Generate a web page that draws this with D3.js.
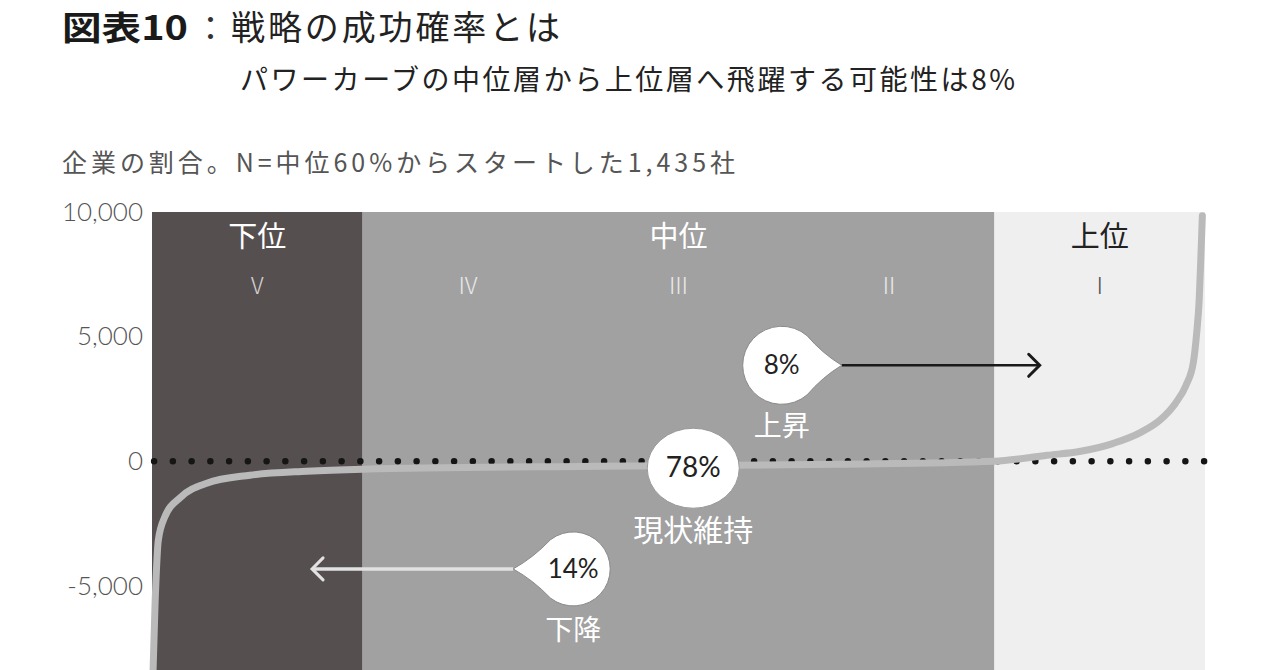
<!DOCTYPE html>
<html><head><meta charset="utf-8">
<script src="https://cdn.jsdelivr.net/npm/d3@7"></script>
<style>
html,body{margin:0;padding:0;background:#fff;}
svg{display:block;}
</style>
</head><body>
<svg id="c" width="1280" height="670"></svg>
<script>
// ---------- data ----------
const titleBold = "図表10";
const titleRest = "戦略の成功確率とは";
const subtitle = "パワーカーブの中位層から上位層へ飛躍する可能性は8%";
const note = "企業の割合。N=中位60%からスタートした1,435社";

const yTicks = [10000, 5000, 0, -5000];
const yTickLabels = ["10,000", "5,000", "0", "-5,000"];

// tiers (percentile ranges)
const tierNames = ["下位", "中位", "上位"];
const tierStart = [0, 20, 80];
const tierEnd = [20, 80, 100];
const tierColors = ["#564f50", "#a1a1a1", "#efefef"];
const tierTextColors = ["#ffffff", "#ffffff", "#222222"];

const quintileLabels = ["Ⅴ", "Ⅳ", "Ⅲ", "Ⅱ", "Ⅰ"];
const quintileCenters = [10, 30, 50, 70, 90];

// power curve: percentile of companies vs value
const curvePct = [0, 0.3, 0.6, 1.2, 2.7, 5.2, 9.3, 14.7, 20, 42.5, 65.3, 80, 85, 88.2, 91.3, 93.9, 95.8, 97.2, 98.2, 98.9, 99.2, 99.45, 99.6, 99.75];
const curveVal = [-9800, -5600, -3170, -2250, -1450, -880, -560, -400, -320, -200, -120, 0, 240, 400, 720, 1160, 1680, 2330, 3050, 3980, 5100, 6500, 8100, 9850];

// annotations
const annPct = [59.8, 51.4, 40.0];
const annVal = [3850, -280, -4320];
const annText = ["8%", "78%", "14%"];
const annLabel = ["上昇", "現状維持", "下降"];
const annArrowTo = [84.3, null, 15.2];

// ---------- layout ----------
const svg = d3.select("#c");
const x = d3.scaleLinear().domain([0, 100]).range([152, 1205]);
const y = d3.scaleLinear().domain([-10000, 10000]).range([710.5, 212]);
const JP = "'Noto Sans CJK JP','Noto Sans',sans-serif";
const NUM = "Lato,'Noto Sans',sans-serif";

// titles
svg.append("text").attr("x", 62).attr("y", 40)
  .attr("font-family", JP).attr("font-size", 33).attr("fill", "#1a1a1a")
  .attr("font-weight", "bold").text(titleBold)
  .attr("textLength", 126).attr("lengthAdjust", "spacingAndGlyphs");
svg.append("text").attr("x", 194).attr("y", 40).attr("font-family", JP)
  .attr("font-size", 33).attr("fill", "#333").text("：");
svg.append("text").attr("x", 231).attr("y", 40).attr("font-family", JP)
  .attr("font-size", 34).attr("fill", "#222").text(titleRest)
  .attr("textLength", 329).attr("lengthAdjust", "spacing");
svg.append("text").attr("x", 240).attr("y", 90).attr("font-family", JP)
  .attr("font-size", 28).attr("fill", "#222").text(subtitle)
  .attr("textLength", 775).attr("lengthAdjust", "spacing");
svg.append("text").attr("x", 62).attr("y", 172).attr("font-family", JP)
  .attr("font-size", 25).attr("fill", "#555").text(note)
  .attr("textLength", 673).attr("lengthAdjust", "spacing");

// tier bands
const bottom = 680;
tierNames.forEach((n, i) => {
  svg.append("rect").attr("x", x(tierStart[i])).attr("y", y(10000))
    .attr("width", x(tierEnd[i]) - x(tierStart[i])).attr("height", bottom - y(10000))
    .attr("fill", tierColors[i]);
  svg.append("text").attr("x", x((tierStart[i] + tierEnd[i]) / 2)).attr("y", 247)
    .attr("text-anchor", "middle").attr("font-family", JP).attr("font-size", 29)
    .attr("fill", tierTextColors[i]).text(n);
});
quintileLabels.forEach((q, i) => {
  svg.append("text").attr("x", x(quintileCenters[i])).attr("y", 294)
    .attr("text-anchor", "middle").attr("font-family", JP).attr("font-size", 23)
    .attr("font-weight", 300)
    .attr("fill", i === 4 ? "#555" : (i === 0 ? "#cfcfcf" : "#e6e6e6")).text(q);
});

// y axis labels
const yAxis = d3.axisLeft(y).tickValues(yTicks).tickSize(0).tickPadding(0)
  .tickFormat((d, i) => yTickLabels[i]);
const gy = svg.append("g").attr("transform", "translate(143,0)").call(yAxis);
gy.select(".domain").remove();
gy.selectAll("text").attr("font-family", NUM).attr("font-weight", 300)
  .attr("font-size", 26).attr("fill", "#555");

// zero dotted line
svg.append("line").attr("x1", x(0.2)).attr("x2", x(100) + 1).attr("y1", y(0)).attr("y2", y(0))
  .attr("stroke", "#151515").attr("stroke-width", 6.5).attr("stroke-linecap", "round")
  .attr("stroke-dasharray", "0 18.75");

// curve
const pts = curvePct.map((p, i) => [p, curveVal[i]]);
const line = d3.line().x(d => x(d[0])).y(d => y(d[1])).curve(d3.curveMonotoneX);
svg.append("path").attr("d", line(pts)).attr("fill", "none")
  .attr("stroke", "#bababa").attr("stroke-width", 7).attr("stroke-linecap", "round");

// annotations
function balloon(cx, cy, r, tipX) {
  const D = Math.abs(tipX - cx);
  const dir = tipX > cx ? 1 : -1;
  const a = Math.acos(r / D);
  const p1 = [cx + dir * r * Math.cos(a), cy - r * Math.sin(a)];
  const p2 = [cx + dir * r * Math.cos(a), cy + r * Math.sin(a)];
  const sweep = dir > 0 ? 0 : 1;
  const c1 = [(tipX + p1[0]) / 2 - dir * 2, (cy + p1[1]) / 2 + 3];
  const c2 = [(tipX + p2[0]) / 2 - dir * 2, (cy + p2[1]) / 2 - 3];
  return `M${tipX},${cy} Q${c1[0]},${c1[1]} ${p1[0]},${p1[1]} A${r},${r} 0 1 ${sweep} ${p2[0]},${p2[1]} Q${c2[0]},${c2[1]} ${tipX},${cy} Z`;
}
annText.forEach((t, i) => {
  const cx = x(annPct[i]), cy = y(annVal[i]);
  if (annArrowTo[i] !== null) {
    const r = i === 0 ? 39 : 37;
    const dir = annArrowTo[i] > annPct[i] ? 1 : -1;
    const tipX = cx + dir * 60;
    const ax = x(annArrowTo[i]);
    const col = i === 0 ? "#1a1a1a" : "#e2e2e2";
    svg.append("line").attr("x1", tipX).attr("x2", ax).attr("y1", cy).attr("y2", cy)
      .attr("stroke", col).attr("stroke-width", i === 0 ? 2.5 : 3.5);
    svg.append("path")
      .attr("d", `M${ax - dir * 11},${cy - 11} L${ax},${cy} L${ax - dir * 11},${cy + 11}`)
      .attr("fill", "none").attr("stroke", col).attr("stroke-width", 3)
      .attr("stroke-linecap", "round").attr("stroke-linejoin", "miter");
    svg.append("path").attr("d", balloon(cx, cy, r, tipX))
      .attr("fill", "#fff").attr("stroke", "#8a8a8a").attr("stroke-width", 1);
  } else {
    svg.append("ellipse").attr("cx", cx).attr("cy", cy).attr("rx", 46).attr("ry", 40)
      .attr("fill", "#fff").attr("stroke", "#999").attr("stroke-width", 1);
  }
  svg.append("text").attr("x", cx).attr("y", cy + 9).attr("text-anchor", "middle")
    .attr("font-family", NUM).attr("font-size", i === 1 ? 28 : 26).attr("fill", "#222").text(t);
  svg.append("text").attr("x", cx).attr("y", cy + (i === 1 ? 73 : 71)).attr("text-anchor", "middle")
    .attr("font-family", JP).attr("font-size", i === 1 ? 30 : 28).attr("fill", "#ffffff").text(annLabel[i]);
});
</script>
</body></html>
